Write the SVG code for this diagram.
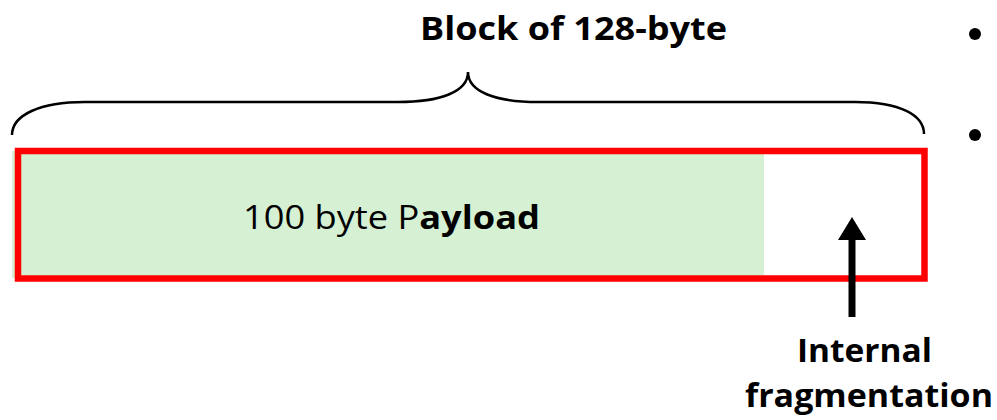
<svg xmlns="http://www.w3.org/2000/svg" width="997" height="420" viewBox="0 0 997 420">
  <style>
    .lbl { font-family: "Open Sans", "Liberation Sans", sans-serif; fill: #000; }
    .b { font-weight: bold; }
  </style>
  <defs>
    <marker id="head" markerWidth="4" markerHeight="4" refX="0" refY="2" orient="auto" markerUnits="strokeWidth">
      <path d="M0,0 L3.3,2 L0,4 Z" fill="#000"/>
    </marker>
  </defs>
  <rect width="997" height="420" fill="#fff"/>

  <g id="title">
    <text class="lbl b" x="420" y="40" font-size="33" textLength="307" lengthAdjust="spacingAndGlyphs">Block of 128-byte</text>
  </g>

  <g id="brace">
    <path d="M12,135 C12,115 40,102 85,102 L398,102 C440,102 468,92 468,72 C468,92 496,102 538,102 L855,102 C900,102 924,115 924,134" fill="none" stroke="#000" stroke-width="2.5"/>
  </g>

  <g id="bullets">
    <circle cx="975" cy="34" r="6" fill="#000"/>
    <circle cx="975" cy="135" r="6" fill="#000"/>
  </g>

  <g id="block">
    <rect x="12" y="151" width="752" height="127" fill="#D5F0D2"/>
    <rect x="18" y="151" width="906.5" height="127.5" fill="none" stroke="#FF0000" stroke-width="6.5"/>
    <text class="lbl" x="243" y="229" font-size="33" textLength="297" lengthAdjust="spacingAndGlyphs">100 byte P<tspan class="b">ayload</tspan></text>
  </g>

  <g id="connectors">
    <line x1="852" y1="317" x2="852" y2="240" stroke="#000" stroke-width="7" marker-end="url(#head)"/>
  </g>

  <g id="frag-label">
    <text class="lbl b" x="797" y="362" font-size="33" textLength="135" lengthAdjust="spacingAndGlyphs">Internal</text>
    <text class="lbl b" x="745" y="407" font-size="33" textLength="248" lengthAdjust="spacingAndGlyphs">fragmentation</text>
  </g>
</svg>
